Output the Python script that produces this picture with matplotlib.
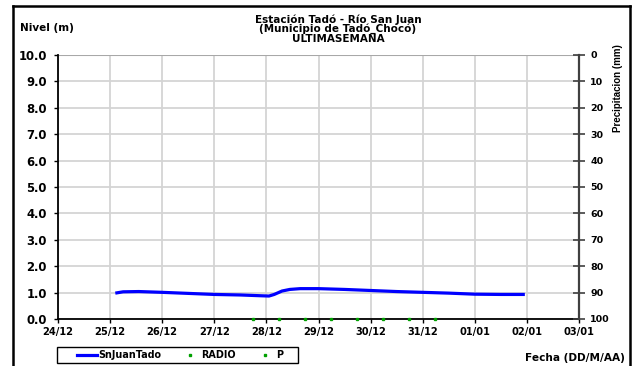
import matplotlib
matplotlib.use("Agg")
import matplotlib.pyplot as plt
from matplotlib.patches import Rectangle
from matplotlib.lines import Line2D

plt.rcParams['font.family'] = ['DejaVu Sans']
plt.rcParams['font.weight'] = 'bold'

# ---- data ----
x_tick_labels = ["24/12", "25/12", "26/12", "27/12", "28/12", "29/12",
                 "30/12", "31/12", "01/01", "02/01", "03/01"]
# time in days since 24/12 00:00
level_days = [1.13, 1.25, 1.55, 2.0, 2.5, 3.0, 3.5, 3.9, 4.05, 4.15, 4.3,
              4.45, 4.65, 5.0, 5.5, 6.0, 6.5, 7.0, 7.5, 8.0, 8.5, 8.93]
level_m = [0.99, 1.03, 1.04, 1.01, 0.97, 0.93, 0.91, 0.88, 0.87, 0.93, 1.06,
           1.12, 1.15, 1.15, 1.12, 1.08, 1.04, 1.01, 0.98, 0.94, 0.93, 0.93]
p_days = [3.74, 4.24, 4.74, 5.24, 5.74, 6.24, 6.74, 7.24]
p_vals = [0, 0, 0, 0, 0, 0, 0, 0]
radio_days = []
radio_vals = []
left_ticks = [0, 1, 2, 3, 4, 5, 6, 7, 8, 9, 10]
right_ticks = [0, 10, 20, 30, 40, 50, 60, 70, 80, 90, 100]

W, H = 633, 366
fig = plt.figure(figsize=(W / 100, H / 100), dpi=100)
fig.patch.set_facecolor('white')

x0, x1, y0, y1 = 58, 579, 55, 319
ax = fig.add_axes([x0 / W, 1 - y1 / H, (x1 - x0) / W, (y1 - y0) / H])
ax.set_xlim(0, len(x_tick_labels) - 1)
ax.set_ylim(0, 10)

ax.grid(True, color='#d4d4d4', linewidth=1.3)
ax.set_axisbelow(True)
ax.axhline(10, color='#a8a8a8', linewidth=1.5, zorder=1)

ax.plot(level_days, level_m, color='#0000ff', linewidth=2.3, zorder=3,
        label='SnJuanTado')
ax.plot(radio_days, radio_vals, linestyle='none', marker='s', markersize=1.8,
        color='#00a000', label='RADIO')
ax.plot(p_days, p_vals, linestyle='none', marker='s', markersize=1.8,
        color='#00a000', zorder=4, label='P', clip_on=False)

ax.set_xticks(range(len(x_tick_labels)))
ax.set_xticklabels(x_tick_labels, fontsize=7.1, fontweight='bold')
ax.set_yticks(left_ticks)
ax.set_yticklabels([f"{v:.1f}" for v in left_ticks], fontsize=8.4,
                   fontweight='bold')
ax.tick_params(axis='x', direction='out', length=3, width=1, pad=3,
               color='black')
ax.tick_params(axis='y', direction='out', length=3, width=1, pad=5,
               color='black')

for s in ['top', 'right']:
    ax.spines[s].set_visible(False)
ax.spines['left'].set_color('black')
ax.spines['bottom'].set_color('black')
ax.spines['left'].set_linewidth(1.3)
ax.spines['bottom'].set_linewidth(1.3)

ax2 = ax.twinx()
ax2.set_ylim(100, 0)
ax2.set_yticks(right_ticks)
ax2.set_yticklabels([str(v) for v in right_ticks], fontsize=6.8,
                    fontweight='bold')
ax2.tick_params(axis='y', direction='inout', length=8, width=1.2, pad=4,
                color='#404040')
for s in ['top', 'left', 'bottom']:
    ax2.spines[s].set_visible(False)
ax2.spines['right'].set_color('#404040')
ax2.spines['right'].set_linewidth(1.6)

# texts
cx = 338 / W
fig.text(cx, 1 - 23 / H, "Estación Tadó - Río San Juan", ha='center',
         va='baseline', fontsize=7.5, fontweight='bold')
fig.text(cx, 1 - 32 / H, "(Municipio de Tadó_Chocó)", ha='center',
         va='baseline', fontsize=7.5, fontweight='bold')
fig.text(cx, 1 - 41.5 / H, "ULTIMASEMANA", ha='center',
         va='baseline', fontsize=7.5, fontweight='bold')
fig.text(20 / W, 1 - 31 / H, "Nivel (m)", ha='left', va='baseline',
         fontsize=7.5, fontweight='bold')
fig.text(618 / W, 1 - 88 / H, "Precipitacion (mm)", ha='center',
         va='center', rotation=90, fontsize=7.0, fontweight='bold',
         family=['Liberation Sans', 'DejaVu Sans'])
fig.text(625 / W, 1 - 361 / H, "Fecha (DD/M/AA)", ha='right',
         va='baseline', fontsize=7.6, fontweight='bold')

# legend (frame drawn separately)
handles = [Line2D([], [], color='#0000ff', linewidth=2.3),
           Line2D([], [], color='#00a000', linestyle='none', marker='s',
                  markersize=1.8),
           Line2D([], [], color='#00a000', linestyle='none', marker='s',
                  markersize=1.8)]
leg = fig.legend(handles, ['SnJuanTado', 'RADIO', 'P'], ncol=3,
                 loc='center left',
                 bbox_to_anchor=(77 / W, 1 - 355.5 / H),
                 fontsize=6.9, frameon=False,
                 borderaxespad=0, handlelength=2.08, handletextpad=0.1,
                 borderpad=0, columnspacing=2.0)
for t in leg.get_texts():
    t.set_fontweight('bold')
fig.patches.append(Rectangle((57 / W, 1 - 363 / H), (298 - 57) / W, 16 / H,
                             transform=fig.transFigure, fill=False,
                             edgecolor='black', linewidth=1.0))

# outer frame (left, top, right)
fc = 'black'
fig.lines.append(Line2D([13 / W, 13 / W], [0, 1 - 6 / H], color=fc,
                        linewidth=1.8, transform=fig.transFigure))
fig.lines.append(Line2D([13 / W, 630 / W], [1 - 6 / H, 1 - 6 / H], color=fc,
                        linewidth=1.8, transform=fig.transFigure))
fig.lines.append(Line2D([630 / W, 630 / W], [0, 1 - 6 / H], color=fc,
                        linewidth=1.8, transform=fig.transFigure))

fig.savefig('out.png', dpi=100)
